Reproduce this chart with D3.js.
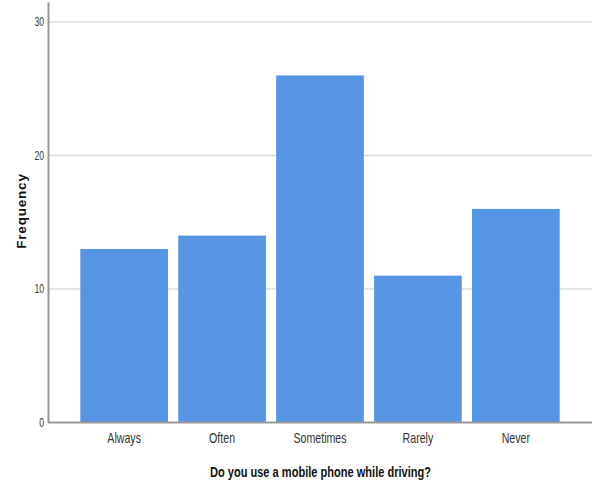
<!DOCTYPE html>
<html><head><meta charset="utf-8">
<script src="https://cdn.jsdelivr.net/npm/d3@7"></script>
<style>body{margin:0;background:#fff}svg{display:block}</style>
</head><body>
<svg id="c" width="592" height="485"></svg>
<script>
const categories = ["Always", "Often", "Sometimes", "Rarely", "Never"];
const frequencies = [13, 14, 26, 11, 16];
const yTicks = [0, 10, 20, 30];
const xTitle = "Do you use a mobile phone while driving?";
const yTitle = "Frequency";

const svg = d3.select("#c");
const font = "'Liberation Sans',Arial,sans-serif";
const x0 = 48, x1 = 592, yBase = 422.5, yTop = 2;

const x = d3.scaleBand().domain(categories).range([x0, x1]).paddingInner(0.105).paddingOuter(0.33);
const y = d3.scaleLinear().domain([0, 31.5]).range([yBase, yTop]);

// gridlines
svg.append("g").selectAll("line").data(yTicks.filter(d => d > 0)).join("line")
  .attr("x1", x0).attr("x2", x1).attr("y1", d => y(d)).attr("y2", d => y(d))
  .attr("stroke", "#dcdcdc").attr("stroke-width", 1.5);

// bars
svg.append("g").selectAll("rect").data(categories).join("rect")
  .attr("x", d => x(d)).attr("width", x.bandwidth())
  .attr("y", (d, i) => y(frequencies[i])).attr("height", (d, i) => yBase - y(frequencies[i]))
  .attr("fill", "#5595e3");

// y axis
const ysx = 0.72;
const ya = svg.append("g").attr("transform", `translate(${x0},0)`)
  .call(d3.axisLeft(y).tickValues(yTicks).tickSize(0).tickPadding(4));
ya.select(".domain").attr("stroke", "#999").attr("stroke-width", 2);
ya.selectAll("text").attr("font-family", font).attr("font-size", 12).attr("fill", "#333")
  .attr("x", -4 / ysx).attr("transform", `scale(${ysx},1)`);

// x axis
const xsx = 0.76;
const xa = svg.append("g").attr("transform", `translate(0,${yBase})`)
  .call(d3.axisBottom(x).tickSize(0).tickPadding(11));
xa.select(".domain").attr("d", `M${x0},0H${x1}`).attr("stroke", "#999").attr("stroke-width", 2);
xa.selectAll("text").attr("font-family", font).attr("font-size", 14).attr("fill", "#333")
  .attr("transform", `scale(${xsx},1)`);

// titles
svg.append("text").attr("transform", "translate(320.5,477) scale(0.79,1)").attr("text-anchor", "middle")
  .attr("font-family", font).attr("font-size", 14).attr("font-weight", "bold").attr("fill", "#111")
  .text(xTitle);
svg.append("text").attr("transform", "translate(26,211) rotate(-90)").attr("text-anchor", "middle")
  .attr("font-family", font).attr("font-size", 13.5).attr("font-weight", "bold").attr("fill", "#111")
  .attr("letter-spacing", 0.8)
  .text(yTitle);
</script>
</body></html>
